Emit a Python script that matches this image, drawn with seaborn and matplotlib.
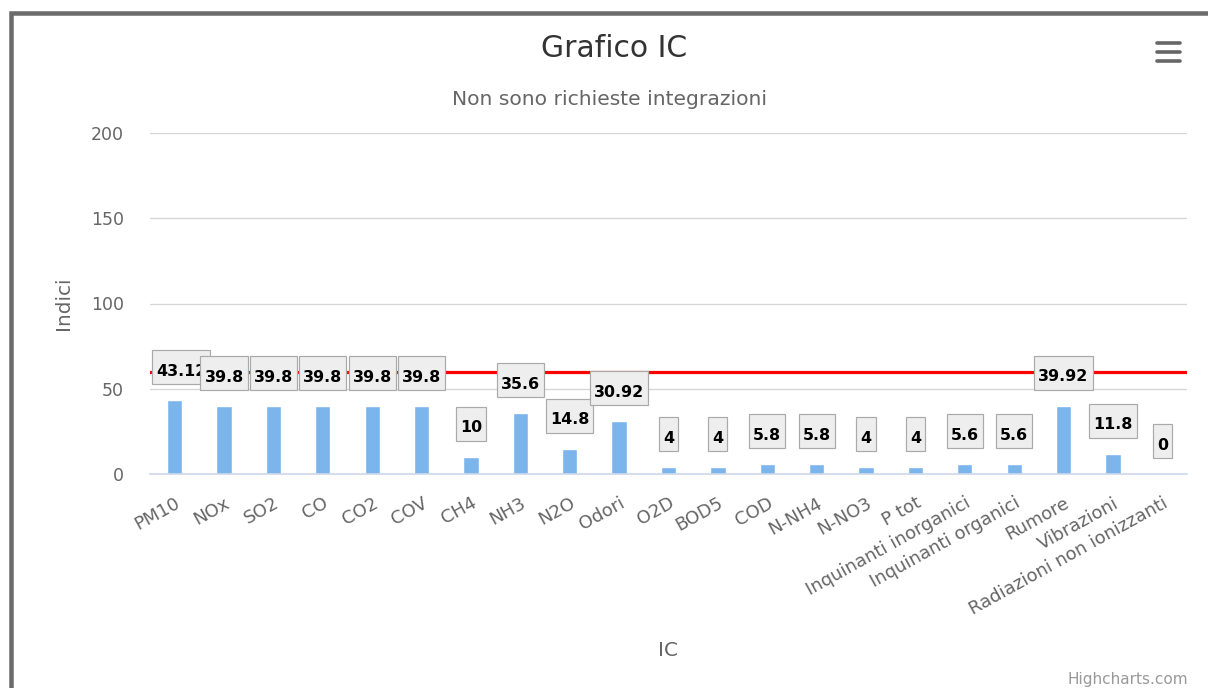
import numpy as np
import pandas as pd
import seaborn as sns
import matplotlib
matplotlib.use("Agg")
import matplotlib.pyplot as plt
from matplotlib.patches import Rectangle
from matplotlib.lines import Line2D
from matplotlib.transforms import IdentityTransform

# ---- data ----
categories = ["PM10", "NOx", "SO2", "CO", "CO2", "COV", "CH4", "NH3", "N2O", "Odori",
              "O2D", "BOD5", "COD", "N-NH4", "N-NO3", "P tot",
              "Inquinanti inorganici", "Inquinanti organici", "Rumore", "Vibrazioni",
              "Radiazioni non ionizzanti"]
values = [43.12, 39.8, 39.8, 39.8, 39.8, 39.8, 10, 35.6, 14.8, 30.92,
          4, 4, 5.8, 5.8, 4, 4, 5.6, 5.6, 39.92, 11.8, 0]
threshold = 60
y_ticks = [0, 50, 100, 150, 200]

title = "Grafico IC"
subtitle = "Non sono richieste integrazioni"
x_title = "IC"
y_title = "Indici"
credits = "Highcharts.com"

W, H = 1208, 688
PT = 0.72  # points per pixel at dpi=100

sns.set_style("white")
plt.rcParams["font.family"] = ["DejaVu Sans"]

fig = plt.figure(figsize=(W / 100, H / 100), dpi=100)
fig.patch.set_facecolor("white")

# plot area in pixel terms
left, right, top, bottom = 150, 1187, 133, 474
ax = fig.add_axes([left / W, 1 - bottom / H, (right - left) / W, (bottom - top) / H])

df = pd.DataFrame({"IC": categories, "Indici": values})
sns.barplot(data=df, x="IC", y="Indici", color="#7cb5ec", saturation=1,
            width=0.31, ax=ax, zorder=2)

ax.set_xlim(-0.5, len(categories) - 0.5)
ax.set_ylim(y_ticks[0], y_ticks[-1])
ax.set_yticks(y_ticks)
ax.yaxis.grid(True, color="#d6d6d6", linewidth=1.3 * PT, zorder=0)
ax.xaxis.grid(False)
ax.set_axisbelow(True)

for s in ["top", "right", "left"]:
    ax.spines[s].set_visible(False)
ax.spines["bottom"].set_color("#ccd6eb")
ax.spines["bottom"].set_linewidth(1.6 * PT)
ax.spines["bottom"].set_zorder(3)

# threshold line
ax.axhline(threshold, color="#ff0000", linewidth=3.2 * PT, zorder=3)

# category ticks at boundaries, labels at centres
ax.set_xticks(np.arange(len(categories)))
ax.set_xticks(np.arange(-0.5, len(categories), 1), minor=True)
ax.tick_params(axis="x", which="minor", length=15 * PT, width=1.5 * PT,
               color="#ccd6eb", direction="out")
ax.tick_params(axis="x", which="major", length=0, pad=20 * PT,
               labelsize=13, labelcolor="#666666")
ax.set_xticklabels(categories)
for lbl in ax.get_xticklabels():
    lbl.set_rotation(29)
    lbl.set_ha("right")
    lbl.set_rotation_mode("anchor")

ax.tick_params(axis="y", length=0, pad=26 * PT, labelsize=12.5, labelcolor="#666666")

ax.set_xlabel(x_title, fontsize=14.4, color="#666666")
ax.xaxis.set_label_coords(0.5, (bottom - 641) / (bottom - top))
ax.set_ylabel(y_title, fontsize=14.4, color="#666666")
ax.yaxis.set_label_coords((73 - left) / (right - left), 0.5)

# titles
fig.text(614 / W, 1 - 57 / H, title, ha="center", va="baseline",
         fontsize=21.5, color="#333333")
fig.text(610 / W, 1 - 105 / H, subtitle, ha="center", va="baseline",
         fontsize=14.6, color="#666666")
fig.text(1188 / W, 1 - 684 / H, credits, ha="right", va="baseline",
         fontsize=11, color="#999999")

# data labels
LABEL_RISE = 24.5  # px from bar top to text baseline
texts = []
for i, v in enumerate(values):
    t = ax.annotate(f"{v:g}", xy=(i, v), xytext=(0, LABEL_RISE * PT),
                    textcoords="offset points", ha="center", va="baseline",
                    fontsize=11.4, fontweight="bold", color="#000000",
                    zorder=6 + 2 * i, annotation_clip=False)
    texts.append(t)

fig.canvas.draw()
renderer = fig.canvas.get_renderer()
ax_left_px = ax.get_window_extent(renderer).x0
for i, (t, v) in enumerate(zip(texts, values)):
    bb = t.get_window_extent(renderer)
    cx, by = ax.transData.transform((i, v))
    bw = bb.width + 8
    bh = 34
    # keep the label box inside the plot area
    shift = max(0.0, (ax_left_px + 2) - (cx - bw / 2))
    if shift:
        t.xyann = (shift * PT, LABEL_RISE * PT)
    cx += shift
    cy = by + 33
    rect = Rectangle((cx - bw / 2, cy - bh / 2), bw, bh,
                     transform=IdentityTransform(), facecolor="#eeeeee",
                     edgecolor="#aaaaaa", linewidth=1.2 * PT,
                     zorder=5 + 2 * i, clip_on=False)
    ax.add_patch(rect)

# container border (top and left edges visible)
fig.patches.append(Rectangle((10.5, -400), 2000, H - 12.5 + 400,
                             transform=IdentityTransform(), fill=False,
                             edgecolor="#6b6b6b", linewidth=4.5 * PT))

# menu icon
for yy in (43, 52, 61):
    fig.add_artist(Line2D([1157 / W, 1180 / W], [1 - yy / H, 1 - yy / H],
                          color="#666666", linewidth=3.6 * PT,
                          solid_capstyle="round"))

fig.savefig("out.png", dpi=100, facecolor="white")
